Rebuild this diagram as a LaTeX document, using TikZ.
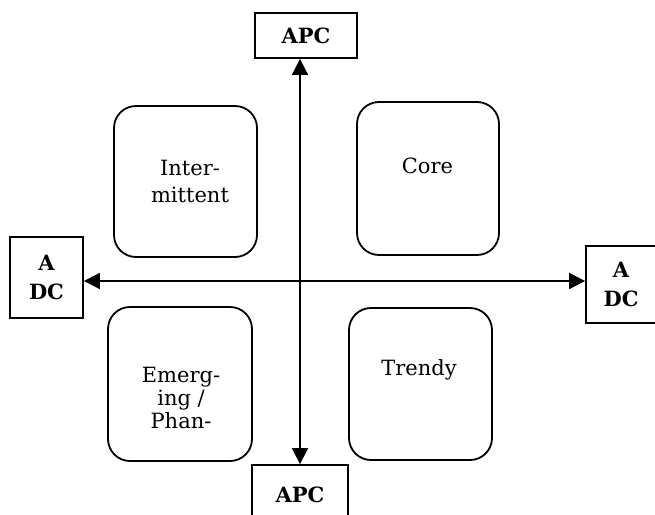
\documentclass[tikz,border=0pt]{standalone}
\usepackage{fontspec}
\setmainfont{DejaVu Serif}
\usetikzlibrary{arrows.meta}
\begin{document}
\begin{tikzpicture}[x=1pt,y=-1pt,
  axisbox/.style={draw, line width=1.8pt, inner sep=0pt, align=center,
    font=\fontsize{21}{29}\selectfont\bfseries},
  quad/.style={draw, line width=1.8pt, rounded corners=22pt, inner sep=0pt},
  quadtext/.style={inner sep=0pt, align=center},
  axis/.style={line width=1.8pt, {Triangle[length=16pt,width=16pt]}-{Triangle[length=16pt,width=16pt]}}]
\useasboundingbox (0,0) rectangle (655,514);
\clip (0,0) rectangle (655,514);

% axis end boxes
\node[axisbox, minimum width=102pt, minimum height=45pt] (topapc) at (306,35.5) {APC};
\node[axisbox, minimum width=96pt, minimum height=60pt] (botapc) at (300,495) {APC};
\node[axisbox, minimum width=73pt, minimum height=81pt] (leftadc) at (46.5,277.5) {A\\DC};
\node[axisbox, minimum width=70pt, minimum height=77pt] (rightadc) at (621,284.5) {A\\DC};

% quadrant boxes
\node[quad, minimum width=143pt, minimum height=151pt] (inter) at (185.5,181.5) {};
\node[quad, minimum width=142pt, minimum height=153pt] (core) at (428,178.5) {};
\node[quad, minimum width=144pt, minimum height=154pt] (emerg) at (180,384) {};
\node[quad, minimum width=143pt, minimum height=152pt] (trendy) at (420.5,384) {};

% quadrant labels
\node[quadtext, font=\fontsize{21}{27}\selectfont] (intertext) at (190,181.5) {Inter-\\mittent};
\node[quadtext, font=\fontsize{21}{23}\selectfont] (coretext) at (427.5,166) {Core};
\node[quadtext, font=\fontsize{21}{23}\selectfont] (emergtext) at (181,398) {Emerg-\\ing /\\Phan-};
\node[quadtext, font=\fontsize{21}{23}\selectfont] (trendytext) at (419,370) {Trendy};

% axes
\coordinate (hy) at (0,281);
\draw[axis] (topapc.south -| botapc.north) -- (botapc.north);
\draw[axis] (leftadc.east |- hy) -- (rightadc.west |- hy);
\end{tikzpicture}
\end{document}
